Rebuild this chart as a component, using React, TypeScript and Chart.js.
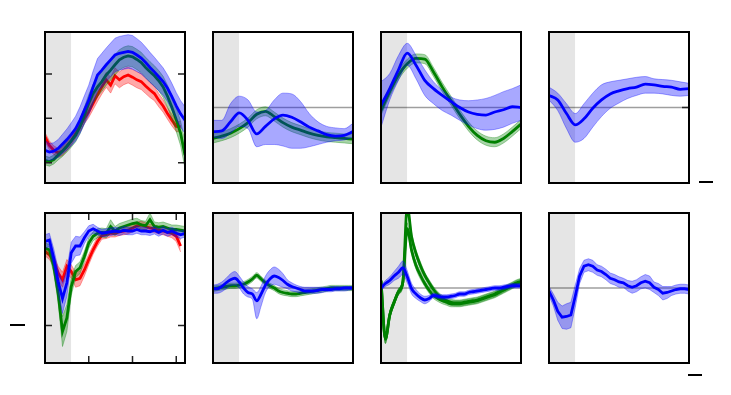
import React, { useEffect, useRef } from "react";
import { Chart, registerables } from "chart.js";
Chart.register(...registerables);

// time axis (s)
const T33 = [0, 0.05, 0.1, 0.15, 0.2, 0.25, 0.3, 0.35, 0.4, 0.45, 0.5, 0.55, 0.6, 0.65, 0.7, 0.75, 0.8, 0.85, 0.9, 0.95, 1.0, 1.05, 1.1, 1.15, 1.2, 1.25, 1.3, 1.35, 1.4, 1.45, 1.5, 1.55, 1.6];
const T17 = [0, 0.1, 0.2, 0.3, 0.4, 0.5, 0.6, 0.7, 0.8, 0.9, 1.0, 1.1, 1.2, 1.3, 1.4, 1.5, 1.6];
const STIM_END = 0.3;
const X_TICKS = [0.5, 1.0, 1.5];

// panel 1
const p1Red = [0.58, 0.39, 0.28, 0.22, 0.26, 0.37, 0.49, 0.66, 0.82, 1.0, 1.15, 1.34, 1.53, 1.71, 1.87, 1.75, 1.96, 1.87, 1.94, 1.98, 1.93, 1.87, 1.83, 1.73, 1.64, 1.56, 1.41, 1.28, 1.11, 0.96, 0.82, 0.81, null];
const p1RedErr = [0.1, 0.1, 0.1, 0.1, 0.1, 0.1, 0.1, 0.11, 0.12, 0.12, 0.13, 0.14, 0.15, 0.16, 0.17, 0.18, 0.18, 0.18, 0.18, 0.18, 0.18, 0.18, 0.18, 0.17, 0.17, 0.16, 0.15, 0.14, 0.13, 0.13, 0.12, 0.12, null];
const p1Green = [0.05, 0.02, 0.07, 0.17, 0.26, 0.37, 0.49, 0.62, 0.81, 1.07, 1.34, 1.56, 1.71, 1.83, 1.98, 2.09, 2.21, 2.32, 2.38, 2.41, 2.39, 2.33, 2.26, 2.15, 2.05, 1.96, 1.85, 1.71, 1.5, 1.25, 0.97, 0.66, 0.17];
const p1GreenErr = [0.1, 0.1, 0.1, 0.11, 0.12, 0.13, 0.14, 0.15, 0.16, 0.18, 0.2, 0.21, 0.22, 0.22, 0.23, 0.23, 0.23, 0.23, 0.23, 0.23, 0.23, 0.23, 0.23, 0.23, 0.23, 0.23, 0.23, 0.24, 0.25, 0.26, 0.27, 0.28, 0.3];
const p1Blue = [0.28, 0.24, 0.26, 0.32, 0.42, 0.52, 0.64, 0.77, 0.96, 1.19, 1.41, 1.71, 1.98, 2.09, 2.21, 2.32, 2.43, 2.47, 2.49, 2.51, 2.49, 2.43, 2.36, 2.26, 2.15, 2.05, 1.94, 1.83, 1.68, 1.49, 1.28, 1.1, 0.96];
const p1BlueErr = [0.22, 0.19, 0.19, 0.2, 0.22, 0.24, 0.26, 0.28, 0.3, 0.32, 0.34, 0.36, 0.37, 0.38, 0.38, 0.38, 0.38, 0.38, 0.38, 0.38, 0.38, 0.37, 0.36, 0.35, 0.34, 0.33, 0.32, 0.31, 0.3, 0.3, 0.3, 0.3, 0.3];

// panel 2
const p2Green = [-0.41, -0.38, -0.34, -0.28, -0.2, -0.09, -0.05, -0.12, -0.2, -0.26, -0.3, -0.34, -0.37, -0.39, -0.4, -0.41, -0.42];
const p2GreenErr = [0.06, 0.06, 0.06, 0.06, 0.06, 0.06, 0.06, 0.06, 0.06, 0.06, 0.06, 0.06, 0.06, 0.06, 0.06, 0.06, 0.06];
const p2Blue = [-0.32, -0.31, -0.19, -0.07, -0.17, -0.35, -0.25, -0.15, -0.1, -0.13, -0.19, -0.26, -0.31, -0.36, -0.38, -0.37, -0.32];
const p2BlueHi = [-0.17, -0.17, 0.05, 0.15, 0.1, -0.06, -0.04, 0.1, 0.19, 0.18, 0.08, -0.08, -0.19, -0.25, -0.27, -0.28, -0.21];
const p2BlueLo = [-0.39, -0.41, -0.34, -0.25, -0.28, -0.52, -0.49, -0.49, -0.51, -0.54, -0.54, -0.52, -0.49, -0.46, -0.44, -0.43, -0.39];

// panel 3
const p3Green = [-0.04, 0.21, 0.43, 0.58, 0.65, 0.64, 0.47, 0.27, 0.09, -0.09, -0.25, -0.37, -0.44, -0.46, -0.41, -0.32, -0.22];
const p3GreenErr = [0.06, 0.06, 0.06, 0.06, 0.06, 0.06, 0.06, 0.06, 0.06, 0.06, 0.06, 0.06, 0.06, 0.06, 0.06, 0.06, 0.06];
const p3Blue = [0.03, 0.25, 0.5, 0.72, 0.56, 0.36, 0.25, 0.16, 0.08, 0.0, -0.06, -0.09, -0.1, -0.06, -0.03, 0.01, 0.0];
const p3BlueHi = [0.34, 0.45, 0.69, 0.85, 0.69, 0.5, 0.34, 0.23, 0.14, 0.1, 0.09, 0.1, 0.12, 0.16, 0.21, 0.25, 0.3];
const p3BlueLo = [-0.26, 0.1, 0.36, 0.56, 0.38, 0.16, 0.05, -0.04, -0.1, -0.17, -0.23, -0.28, -0.3, -0.29, -0.26, -0.21, -0.17];

// panel 4
const p4Blue = [0.16, 0.1, -0.08, -0.23, -0.15, -0.01, 0.1, 0.18, 0.22, 0.25, 0.27, 0.31, 0.3, 0.28, 0.27, 0.24, 0.25];
const p4BlueHi = [0.27, 0.19, 0.05, -0.08, 0.05, 0.19, 0.3, 0.34, 0.36, 0.38, 0.4, 0.41, 0.38, 0.37, 0.36, 0.34, 0.32];
const p4BlueLo = [0.1, -0.04, -0.28, -0.46, -0.41, -0.26, -0.12, -0.01, 0.06, 0.12, 0.16, 0.19, 0.19, 0.18, 0.16, 0.15, 0.16];

// panel 5
const p5Red = [0.99, 0.94, 0.86, 0.7, 0.61, 0.79, 0.72, 0.61, 0.63, 0.74, 0.88, 1.01, 1.12, 1.2, 1.21, 1.23, 1.23, 1.25, 1.26, 1.27, 1.3, 1.33, 1.34, 1.32, 1.3, 1.29, 1.27, 1.26, 1.24, 1.23, 1.19, 1.06, null];
const p5RedErr = [0.06, 0.06, 0.07, 0.09, 0.1, 0.09, 0.09, 0.1, 0.1, 0.08, 0.07, 0.06, 0.06, 0.05, 0.05, 0.05, 0.05, 0.05, 0.05, 0.05, 0.05, 0.05, 0.05, 0.05, 0.05, 0.05, 0.05, 0.05, 0.05, 0.06, 0.07, 0.08, null];
const p5Green = [1.03, 1.01, 0.79, 0.43, -0.08, 0.1, 0.52, 0.72, 0.77, 0.92, 1.1, 1.19, 1.23, 1.24, 1.23, 1.32, 1.26, 1.3, 1.32, 1.34, 1.36, 1.37, 1.34, 1.33, 1.41, 1.32, 1.31, 1.32, 1.3, 1.28, 1.28, 1.27, 1.26];
const p5GreenErr = [0.07, 0.07, 0.09, 0.12, 0.2, 0.18, 0.12, 0.08, 0.08, 0.07, 0.07, 0.06, 0.06, 0.06, 0.06, 0.09, 0.06, 0.06, 0.06, 0.06, 0.06, 0.06, 0.06, 0.06, 0.09, 0.06, 0.06, 0.06, 0.06, 0.06, 0.06, 0.06, 0.06];
const p5Blue = [1.12, 1.14, 0.9, 0.59, 0.36, 0.57, 0.97, 1.06, 1.06, 1.17, 1.26, 1.29, 1.26, 1.23, 1.24, 1.25, 1.26, 1.25, 1.27, 1.26, 1.26, 1.28, 1.26, 1.26, 1.25, 1.27, 1.24, 1.27, 1.24, 1.26, 1.23, 1.21, 1.23];
const p5BlueErr = [0.09, 0.09, 0.12, 0.16, 0.2, 0.18, 0.14, 0.13, 0.12, 0.08, 0.07, 0.06, 0.05, 0.05, 0.05, 0.05, 0.05, 0.05, 0.05, 0.05, 0.05, 0.05, 0.05, 0.05, 0.05, 0.05, 0.05, 0.05, 0.05, 0.05, 0.05, 0.05, 0.05];

// panel 6
const p6Green = [-0.01, 0.0, 0.01, 0.02, 0.03, 0.03, 0.04, 0.05, 0.08, 0.12, 0.17, 0.12, 0.07, 0.03, 0.0, -0.04, -0.06, -0.07, -0.08, -0.08, -0.07, -0.06, -0.05, -0.04, -0.03, -0.02, -0.01, 0.0, 0.0, 0.0, 0.0, 0.0, 0.0];
const p6GreenErr = [0.035, 0.035, 0.035, 0.035, 0.035, 0.035, 0.035, 0.035, 0.035, 0.035, 0.035, 0.035, 0.035, 0.035, 0.035, 0.035, 0.035, 0.035, 0.035, 0.035, 0.035, 0.035, 0.035, 0.035, 0.035, 0.035, 0.035, 0.035, 0.035, 0.035, 0.035, 0.035, 0.035];
const p6Blue = [-0.01, -0.01, 0.02, 0.07, 0.11, 0.13, 0.08, 0.0, -0.06, -0.08, -0.17, -0.08, 0.04, 0.12, 0.16, 0.14, 0.1, 0.05, 0.02, 0.0, -0.02, -0.04, -0.04, -0.04, -0.03, -0.02, -0.02, -0.02, -0.01, -0.01, 0.0, 0.0, 0.0];
const p6BlueHi = [0.04, 0.05, 0.08, 0.13, 0.19, 0.22, 0.16, 0.08, 0.02, -0.01, -0.06, 0.03, 0.16, 0.24, 0.28, 0.25, 0.19, 0.11, 0.07, 0.04, 0.02, 0.01, 0.01, 0.01, 0.01, 0.01, 0.01, 0.02, 0.02, 0.02, 0.02, 0.02, 0.02];
const p6BlueLo = [-0.07, -0.07, -0.05, -0.01, 0.03, 0.04, 0.0, -0.08, -0.12, -0.15, -0.41, -0.24, -0.06, 0.02, 0.05, 0.03, 0.01, -0.01, -0.04, -0.05, -0.07, -0.07, -0.07, -0.07, -0.07, -0.06, -0.05, -0.05, -0.04, -0.04, -0.04, -0.03, -0.02];

// panel 7
const p7GreenA = [0.1, -0.68, -0.36, -0.19, -0.05, 0.08, 1.08, 0.68, 0.46, 0.3, 0.17, 0.07, -0.02, -0.09, -0.14, -0.17, -0.19, -0.2, -0.2, -0.19, -0.18, -0.17, -0.16, -0.14, -0.12, -0.1, -0.08, -0.05, -0.02, 0.01, 0.04, 0.07, 0.09];
const p7GreenB = [0.1, -0.68, -0.36, -0.19, -0.05, 0.08, 0.79, 0.5, 0.3, 0.17, 0.06, -0.03, -0.1, -0.14, -0.17, -0.19, -0.21, -0.21, -0.21, -0.2, -0.19, -0.18, -0.17, -0.15, -0.13, -0.11, -0.09, -0.06, -0.03, 0.0, 0.03, 0.06, 0.08];
const p7GreenErr = [0.04, 0.06, 0.05, 0.04, 0.04, 0.05, 0.08, 0.06, 0.05, 0.05, 0.04, 0.04, 0.04, 0.04, 0.04, 0.04, 0.04, 0.04, 0.04, 0.04, 0.04, 0.04, 0.04, 0.04, 0.04, 0.04, 0.04, 0.04, 0.04, 0.04, 0.04, 0.04, 0.04];
const p7Blue = [0.0, 0.06, 0.1, 0.16, 0.21, 0.27, 0.15, -0.01, -0.08, -0.13, -0.16, -0.14, -0.1, -0.11, -0.12, -0.12, -0.11, -0.1, -0.08, -0.08, -0.06, -0.05, -0.04, -0.03, -0.02, -0.01, 0.0, 0.0, 0.01, 0.02, 0.03, 0.03, 0.03];
const p7BlueErr = [0.03, 0.04, 0.05, 0.06, 0.08, 0.09, 0.08, 0.07, 0.06, 0.05, 0.05, 0.04, 0.03, 0.03, 0.03, 0.03, 0.03, 0.03, 0.03, 0.03, 0.03, 0.03, 0.03, 0.03, 0.03, 0.03, 0.03, 0.03, 0.03, 0.03, 0.03, 0.03, 0.03];

// panel 8
const p8Blue = [-0.04, -0.16, -0.31, -0.39, -0.38, -0.36, -0.11, 0.16, 0.29, 0.31, 0.29, 0.24, 0.22, 0.18, 0.13, 0.11, 0.08, 0.07, 0.03, 0.01, 0.03, 0.07, 0.09, 0.07, 0.01, -0.02, -0.07, -0.06, -0.04, -0.02, -0.01, -0.01, -0.02];
const p8BlueErr = [0.06, 0.08, 0.12, 0.15, 0.17, 0.17, 0.15, 0.1, 0.08, 0.08, 0.08, 0.07, 0.07, 0.07, 0.07, 0.07, 0.07, 0.06, 0.07, 0.08, 0.08, 0.08, 0.09, 0.09, 0.07, 0.08, 0.09, 0.08, 0.06, 0.06, 0.06, 0.06, 0.06];

type Arr = (number | null)[];
type Series = { rgb: number[]; mean: Arr; lo: Arr; hi: Arr };

const BLUE = [0, 0, 255];
const GREEN = [0, 128, 0];
const RED = [255, 0, 0];

const withErr = (rgb: number[], mean: Arr, err: Arr): Series => ({
  rgb,
  mean,
  lo: mean.map((m, i) => (m == null || err[i] == null ? null : m - (err[i] as number))),
  hi: mean.map((m, i) => (m == null || err[i] == null ? null : m + (err[i] as number))),
});
const withBand = (rgb: number[], mean: Arr, lo: Arr, hi: Arr): Series => ({ rgb, mean, lo, hi });

type Panel = {
  left: number; top: number; width: number; height: number;
  yMin: number; yMax: number; t: number[]; smooth: boolean; zero: boolean;
  yLeft: number[]; yRight: number[]; xTicks: number[]; series: Series[];
};

const COLS = [45, 213, 381, 549];
const ROWS = [32, 213];
const PW = 140;
const PH = [151, 150];

const PANELS: Panel[] = [
  { left: COLS[0], top: ROWS[0], width: PW, height: PH[0], yMin: -0.46, yMax: 2.95, t: T33, smooth: false, zero: false, yLeft: [0, 1, 2], yRight: [0, 2], xTicks: [],
    series: [withErr(RED, p1Red, p1RedErr), withErr(GREEN, p1Green, p1GreenErr), withErr(BLUE, p1Blue, p1BlueErr)] },
  { left: COLS[1], top: ROWS[0], width: PW, height: PH[0], yMin: -1, yMax: 1, t: T17, smooth: true, zero: true, yLeft: [], yRight: [], xTicks: [],
    series: [withErr(GREEN, p2Green, p2GreenErr), withBand(BLUE, p2Blue, p2BlueLo, p2BlueHi)] },
  { left: COLS[2], top: ROWS[0], width: PW, height: PH[0], yMin: -1, yMax: 1, t: T17, smooth: true, zero: true, yLeft: [], yRight: [], xTicks: [],
    series: [withErr(GREEN, p3Green, p3GreenErr), withBand(BLUE, p3Blue, p3BlueLo, p3BlueHi)] },
  { left: COLS[3], top: ROWS[0], width: PW, height: PH[0], yMin: -1, yMax: 1, t: T17, smooth: true, zero: true, yLeft: [], yRight: [0], xTicks: [],
    series: [withBand(BLUE, p4Blue, p4BlueLo, p4BlueHi)] },
  { left: COLS[0], top: ROWS[1], width: PW, height: PH[1], yMin: -0.5, yMax: 1.5, t: T33, smooth: false, zero: false, yLeft: [0], yRight: [0], xTicks: X_TICKS,
    series: [withErr(RED, p5Red, p5RedErr), withErr(GREEN, p5Green, p5GreenErr), withErr(BLUE, p5Blue, p5BlueErr)] },
  { left: COLS[1], top: ROWS[1], width: PW, height: PH[1], yMin: -1, yMax: 1, t: T33, smooth: true, zero: true, yLeft: [], yRight: [], xTicks: [],
    series: [withErr(GREEN, p6Green, p6GreenErr), withBand(BLUE, p6Blue, p6BlueLo, p6BlueHi)] },
  { left: COLS[2], top: ROWS[1], width: PW, height: PH[1], yMin: -1, yMax: 1, t: T33, smooth: true, zero: true, yLeft: [], yRight: [], xTicks: [],
    series: [withErr(GREEN, p7GreenA, p7GreenErr), withErr(GREEN, p7GreenB, p7GreenErr), withErr(BLUE, p7Blue, p7BlueErr)] },
  { left: COLS[3], top: ROWS[1], width: PW, height: PH[1], yMin: -1, yMax: 1, t: T33, smooth: false, zero: true, yLeft: [], yRight: [], xTicks: [],
    series: [withErr(BLUE, p8Blue, p8BlueErr)] },
];

const PAD = 3;
const BAND_ALPHA = 0.34;
const rgba = (c: number[], a: number) => `rgba(${c[0]},${c[1]},${c[2]},${a})`;

function PanelChart({ p }: { p: Panel }) {
  const ref = useRef<HTMLCanvasElement | null>(null);
  useEffect(() => {
    if (!ref.current) return;
    const pts = (ys: Arr) => p.t.map((x, i) => ({ x, y: ys[i] }));
    const ds: any[] = [];
    const push = (o: any) => {
      ds.push({ pointRadius: 0, clip: 0, order: 1000 - ds.length, ...o });
    };
    const curve = p.smooth ? { cubicInterpolationMode: "monotone" } : { tension: 0 };
    push({ data: [{ x: 0, y: p.yMax }, { x: STIM_END, y: p.yMax }], borderWidth: 0, borderColor: "rgba(0,0,0,0)", backgroundColor: "#e5e5e5", fill: "start" });
    if (p.zero) push({ data: [{ x: 0, y: 0 }, { x: 1.6, y: 0 }], borderColor: "rgba(0,0,0,0.38)", borderWidth: 1.5, fill: false });
    p.series.forEach((s) => {
      push({ data: pts(s.lo), borderColor: rgba(s.rgb, BAND_ALPHA), borderWidth: 1, fill: false, ...curve });
      push({ data: pts(s.hi), borderColor: rgba(s.rgb, BAND_ALPHA), borderWidth: 1, fill: "-1", backgroundColor: rgba(s.rgb, BAND_ALPHA), ...curve });
      push({ data: pts(s.mean), borderColor: rgba(s.rgb, 1), borderWidth: 2.8, fill: false, ...curve });
    });
    const frame = {
      id: "frame",
      afterDraw(chart: any) {
        const { ctx, chartArea: a, scales } = chart;
        const L = 7;
        ctx.save();
        ctx.strokeStyle = "#222";
        ctx.lineWidth = 1.5;
        ctx.beginPath();
        p.yLeft.forEach((v) => { const y = scales.y.getPixelForValue(v); ctx.moveTo(a.left, y); ctx.lineTo(a.left + L, y); });
        p.yRight.forEach((v) => { const y = scales.y.getPixelForValue(v); ctx.moveTo(a.right, y); ctx.lineTo(a.right - L, y); });
        p.xTicks.forEach((v) => {
          const x = scales.x.getPixelForValue(v);
          ctx.moveTo(x, a.bottom); ctx.lineTo(x, a.bottom - L);
          ctx.moveTo(x, a.top); ctx.lineTo(x, a.top + L);
        });
        ctx.stroke();
        ctx.strokeStyle = "#000";
        ctx.lineWidth = 2;
        ctx.strokeRect(a.left, a.top, a.right - a.left, a.bottom - a.top);
        ctx.restore();
      },
    };
    const chart = new Chart(ref.current, {
      type: "line",
      data: { datasets: ds },
      options: {
        animation: false,
        responsive: false,
        events: [],
        layout: { padding: PAD },
        plugins: { legend: { display: false }, tooltip: { enabled: false }, filler: { drawTime: "beforeDatasetDraw", propagate: false } as any },
        scales: {
          x: { type: "linear", display: false, min: 0, max: 1.6 },
          y: { type: "linear", display: false, min: p.yMin, max: p.yMax },
        },
      },
      plugins: [frame],
    } as any);
    return () => chart.destroy();
  }, [p]);
  return (
    <canvas
      ref={ref}
      width={p.width + 2 * PAD}
      height={p.height + 2 * PAD}
      style={{ position: "absolute", left: p.left - PAD, top: p.top - PAD, width: p.width + 2 * PAD, height: p.height + 2 * PAD }}
    />
  );
}

const DASHES = [
  { left: 699, top: 181, width: 14 },
  { left: 10, top: 324, width: 15 },
  { left: 688, top: 374, width: 14 },
];

export default function App() {
  return (
    <div style={{ position: "fixed", left: 0, top: 0, width: 731, height: 395, background: "#fff", overflow: "hidden" }}>
      {PANELS.map((p, i) => (
        <PanelChart key={i} p={p} />
      ))}
      {DASHES.map((d, i) => (
        <div key={"d" + i} style={{ position: "absolute", left: d.left, top: d.top, width: d.width, height: 2, background: "#000" }} />
      ))}
    </div>
  );
}
